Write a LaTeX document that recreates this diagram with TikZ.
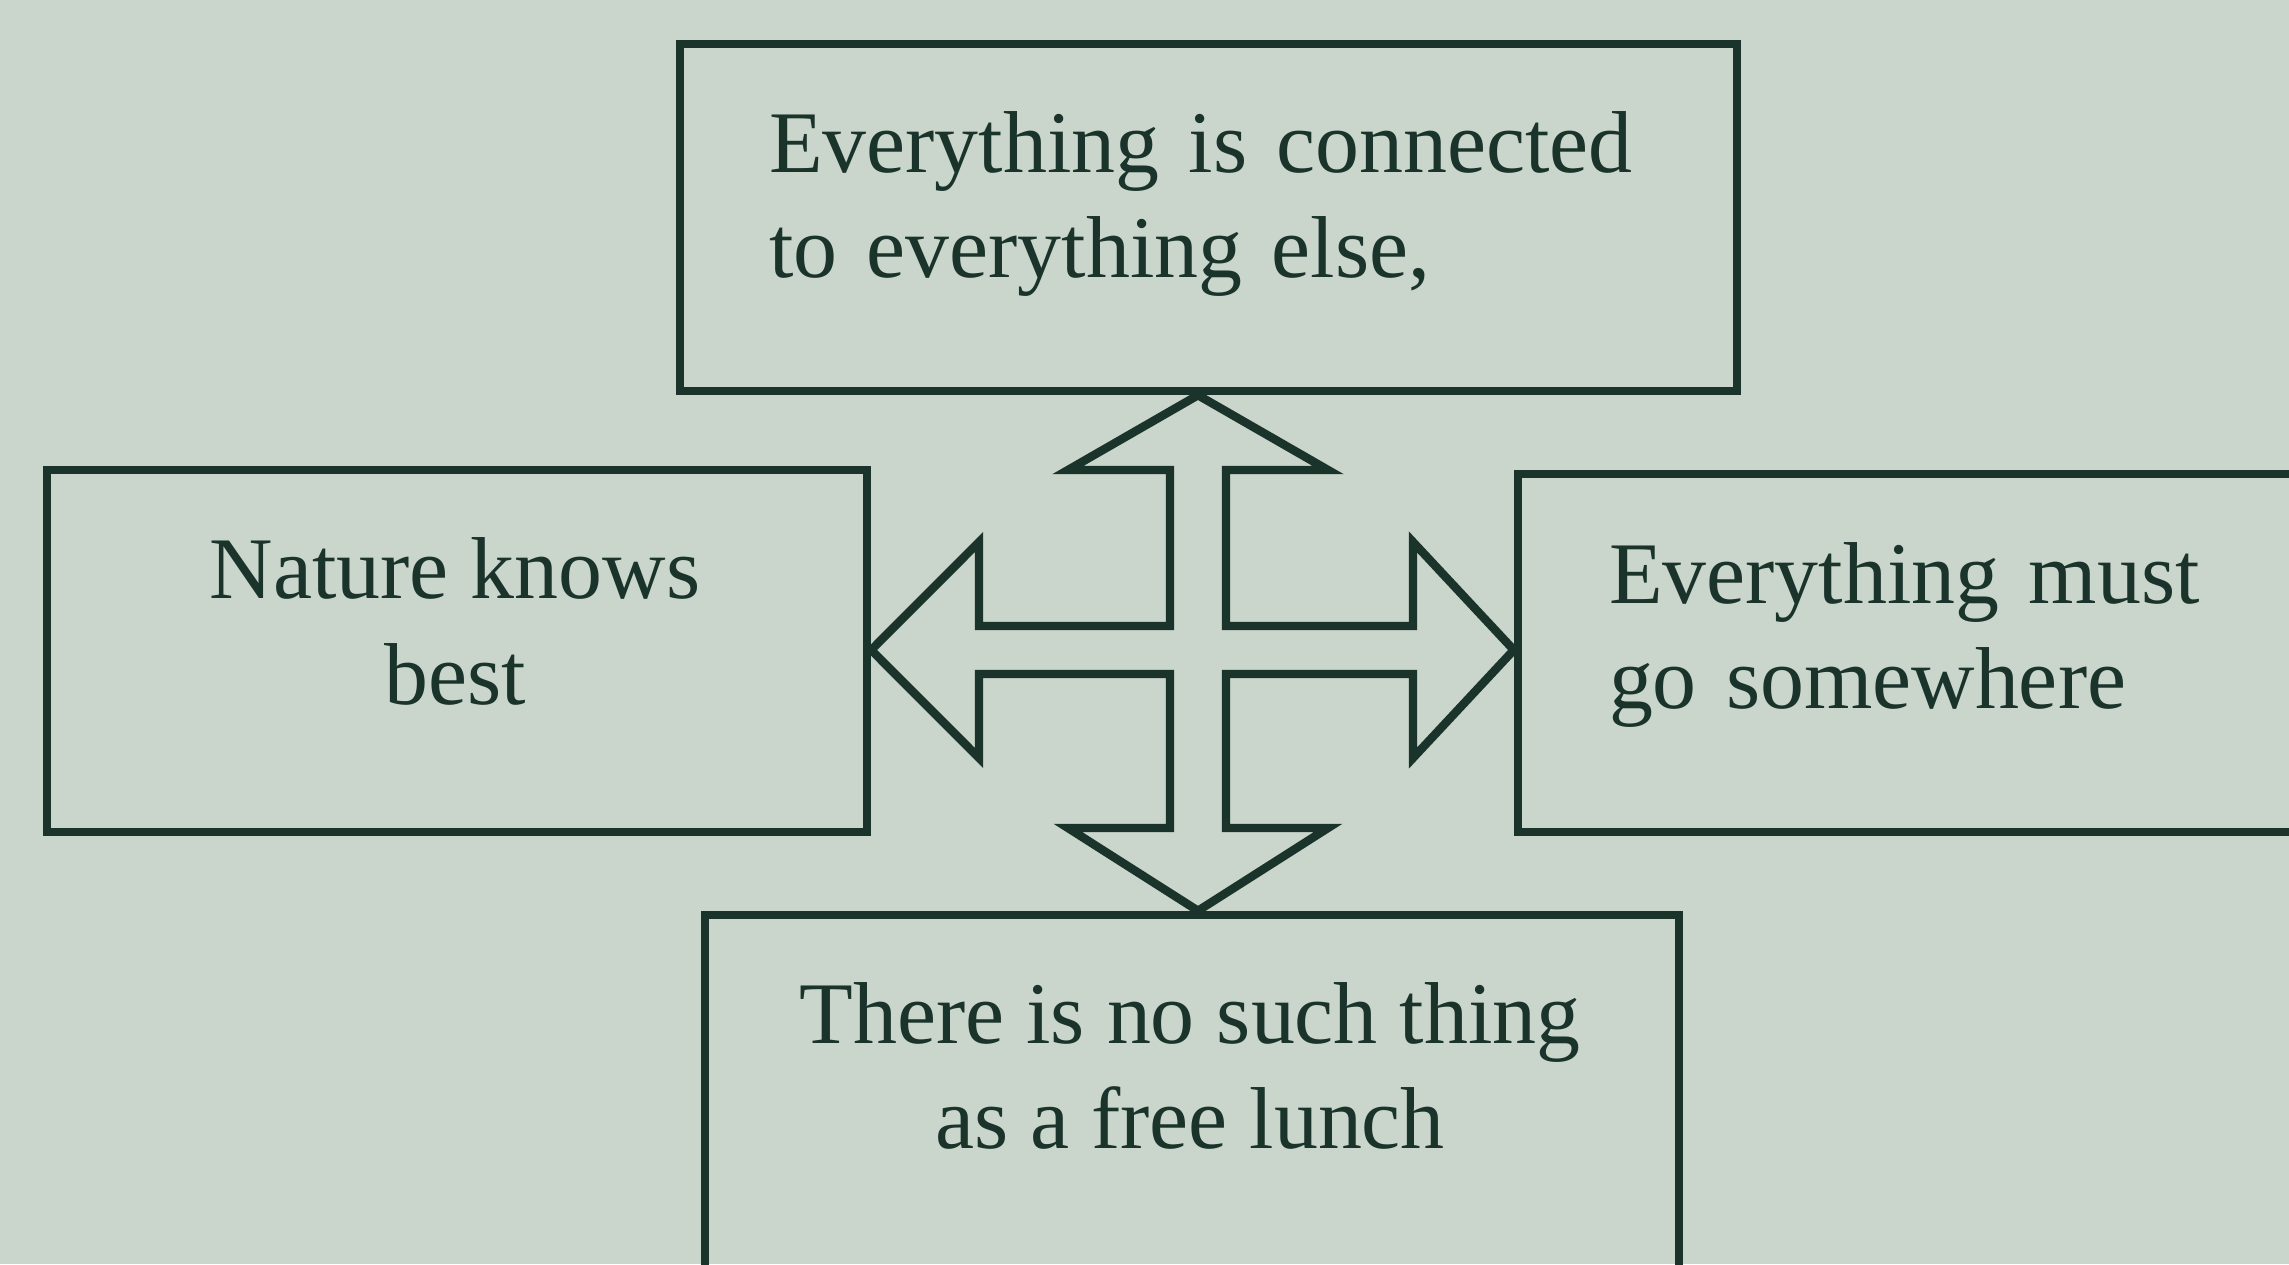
\documentclass[tikz,border=0pt]{standalone}
\usepackage{fontspec}
\setmainfont{Liberation Serif}
\definecolor{paper}{RGB}{202,214,204}
\definecolor{ink}{RGB}{26,52,44}

\begin{document}
\begin{tikzpicture}[
  box/.style={draw=ink,line width=2.4pt,inner sep=0pt},
  say/.style={text=ink,inner sep=0pt,font=\fontsize{25}{30}\selectfont},
  crossarrow/.style={draw=ink,line width=2.4pt,line join=miter}]
  \fill[paper] (0,0) rectangle (22.89,12.64);
  \useasboundingbox (0,0) rectangle (22.89,12.64);
  \clip (0,0) rectangle (22.89,12.64);
  \node[box,minimum width=10.57cm,minimum height=3.47cm] (conn) at (12.085,10.465) {};
  \node[box,minimum width=8.20cm,minimum height=3.62cm] (nature) at (4.57,6.13) {};
  \node[box,minimum width=8.30cm,minimum height=3.58cm] (must) at (19.33,6.11) {};
  \node[box,minimum width=9.74cm,minimum height=3.80cm] (lunch) at (11.92,1.59) {};
  \node[say,align=left,text width=8.8cm] (connTxt) at (12.09,10.60) {Everything is connected\\to everything else,};
  \node[say,align=center] (natureTxt) at (4.55,6.425) {Nature knows\\best};
  \node[say,align=left,text width=6.4cm] (mustTxt) at (19.29,6.29) {Everything must\\go somewhere};
  \node[say,align=center] (lunchTxt) at (11.90,1.98) {There is no such thing\\as a free lunch};
  \coordinate (hub) at (11.98,6.14);
  \coordinate (tn) at (hub |- conn.south);
  \coordinate (ts) at (hub |- lunch.north);
  \coordinate (tw) at (hub -| nature.east);
  \coordinate (te) at (hub -| must.west);
  \begin{scope}[shift={(hub)}]
    \draw[crossarrow] (tn) -- (1.30,1.80) -- (0.28,1.80) -- (0.28,0.24) -- (2.15,0.24) -- (2.15,1.08) -- (te)
      -- (2.15,-1.08) -- (2.15,-0.24) -- (0.28,-0.24) -- (0.28,-1.78) -- (1.30,-1.78) -- (ts)
      -- (-1.30,-1.78) -- (-0.28,-1.78) -- (-0.28,-0.24) -- (-2.19,-0.24) -- (-2.19,-1.08) -- (tw)
      -- (-2.19,1.08) -- (-2.19,0.24) -- (-0.28,0.24) -- (-0.28,1.80) -- (-1.30,1.80) -- cycle;
  \end{scope}
\end{tikzpicture}
\end{document}
